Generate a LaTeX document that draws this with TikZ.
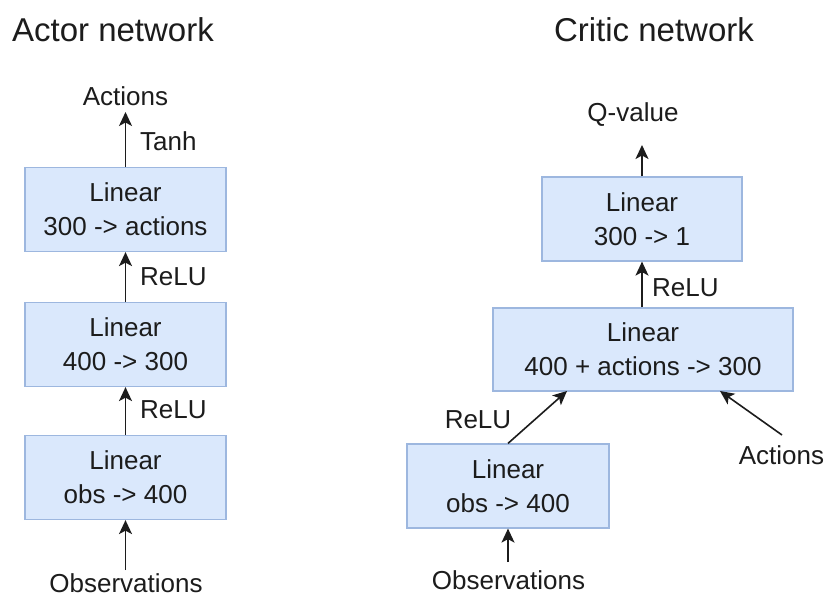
\documentclass[tikz,border=0pt]{standalone}
\usepackage{fontspec}
\setmainfont{Liberation Sans}
\usetikzlibrary{arrows.meta}
\definecolor{boxfill}{HTML}{DAE8FC}
\definecolor{boxline}{HTML}{9DB7DF}
\definecolor{ink}{HTML}{1C1C1C}

\begin{document}
\begin{tikzpicture}[x=1pt,y=-1pt,
  layer/.style={draw=boxline, fill=boxfill, line width=1.2pt, align=center,
    inner sep=0pt, minimum height=84pt, text=ink,
    font=\fontsize{26}{34}\selectfont},
  lbl/.style={inner sep=0pt, text=ink, font=\fontsize{26}{31}\selectfont},
  ttl/.style={inner sep=0pt, text=ink, font=\fontsize{33}{40}\selectfont},
  flow/.style={draw=ink, line width=1.6pt,
    -{Stealth[length=14pt,width=13pt,inset=3.5pt]}}]

  % canvas
  \path[fill=white] (0,0) rectangle (827,597);
  \useasboundingbox (0,0) rectangle (827,597);

  % ---------------- actor ----------------
  \node[ttl] (atitle) at (113,30) {Actor network};
  \node[layer, minimum width=201pt] (a1) at (125.5,477.5) {Linear\\obs -> 400};
  \node[layer, minimum width=201pt] (a2) at (125.5,344.5) {Linear\\400 -> 300};
  \node[layer, minimum width=201pt] (a3) at (125.5,209.5) {Linear\\300 -> actions};

  \node[lbl] (aact) at (125.5,96) {Actions};
  \node[lbl] (aobs) at (126,583) {Observations};
  \node[lbl, anchor=west] (tanh) at (140,141) {Tanh};
  \node[lbl, anchor=west] (arelu2) at (140,277) {ReLU};
  \node[lbl, anchor=west] (arelu1) at (140,410) {ReLU};

  \coordinate (aacttip) at (125.5,112);
  \coordinate (aobsfoot) at (125.5,570);

  \draw[flow] (aobsfoot) -- (a1.south);
  \draw[flow] (a1.north) -- (a2.south);
  \draw[flow] (a2.north) -- (a3.south);
  \draw[flow] (a3.north) -- (aacttip);

  % ---------------- critic ----------------
  \node[ttl] (ctitle) at (654,30) {Critic network};
  \node[layer, minimum width=202pt] (c1) at (508,486) {Linear\\obs -> 400};
  \node[layer, minimum width=300pt, minimum height=83pt] (c2) at (643,349.5) {Linear\\400 + actions -> 300};
  \node[layer, minimum width=200pt] (c3) at (642,219) {Linear\\300 -> 1};

  \node[lbl] (qval) at (633,115) {Q-value};
  \node[lbl] (cobs) at (508.5,580) {Observations};
  \node[lbl] (cact) at (781.5,455) {Actions};
  \node[lbl, anchor=west] (crelu2) at (652,288) {ReLU};
  \node[lbl] (crelu1) at (478,420) {ReLU};

  \coordinate (qtip) at (642,145);
  \coordinate (cobsfoot) at (508,562);
  \coordinate (cactfoot) at (782,435);
  \coordinate (c2inl) at (567,391);
  \coordinate (c2inr) at (720,391);

  \draw[flow] (cobsfoot) -- (c1.south);
  \draw[flow] (c1.north) -- (c2inl);
  \draw[flow] (cactfoot) -- (c2inr);
  \draw[flow] (c2.north -| c3.south) -- (c3.south);
  \draw[flow] (c3.north) -- (qtip);
\end{tikzpicture}
\end{document}
